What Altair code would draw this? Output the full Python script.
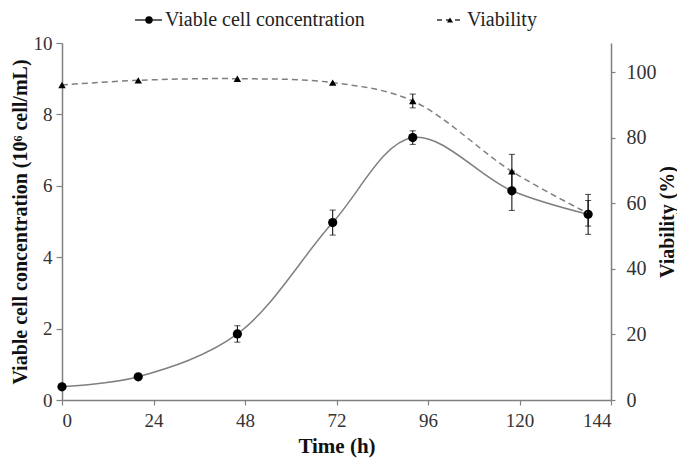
import altair as alt
import pandas as pd

time_h = [0, 20, 46, 71, 92, 118, 138]
vcc = [0.37, 0.65, 1.85, 4.97, 7.35, 5.86, 5.20]
vcc_err = [0.0, 0.0, 0.23, 0.35, 0.19, 0.55, 0.56]
viability = [96.2, 97.6, 98.1, 96.9, 91.3, 69.8, 57.0]
via_err = [0.0, 0.0, 0.0, 0.0, 2.1, 5.2, 3.9]

x_ticks = [0, 24, 48, 72, 96, 120, 144]
left_ticks = [0, 2, 4, 6, 8, 10]
right_ticks = [0, 20, 40, 60, 80, 100]

FONT = "Liberation Serif"
GRAY = "#7f7f7f"
AXC = "#808080"

df = pd.DataFrame({
    "t": time_h, "vcc": vcc, "vcc_lo": [v - e for v, e in zip(vcc, vcc_err)],
    "vcc_hi": [v + e for v, e in zip(vcc, vcc_err)],
    "via": viability, "via_lo": [v - e for v, e in zip(viability, via_err)],
    "via_hi": [v + e for v, e in zip(viability, via_err)],
    "vcc_has": [e > 0 for e in vcc_err], "via_has": [e > 0 for e in via_err],
})

x_axis = alt.Axis(values=x_ticks, title="Time (h)", grid=False, titleFontSize=21,
                  titlePadding=5, labelPadding=6, tickSize=5)
x_scale = alt.Scale(domain=[0, 144], nice=False)

def X(field="t"):
    return alt.X(f"{field}:Q", scale=x_scale, axis=x_axis)

yl_scale = alt.Scale(domain=[0, 10], nice=False)
yr_scale = alt.Scale(domain=[0, 109], nice=False)

left_axis = alt.Axis(values=left_ticks, title="Viable cell concentration  (10⁶ cell/mL)",
                     grid=False, orient="left", titlePadding=3, titleFontSize=20,
                     labelPadding=4, tickSize=6)
right_axis = alt.Axis(values=right_ticks, title="Viability (%)", grid=False, orient="right",
                      titleAngle=270, titlePadding=21, titleFontSize=20, labelFontSize=20,
                      labelPadding=11, tickSize=4)

def YL(field):
    return alt.Y(f"{field}:Q", scale=yl_scale, axis=left_axis)

def YR(field):
    return alt.Y(f"{field}:Q", scale=yr_scale, axis=right_axis)

base = alt.Chart(df)
tick_kw = dict(color="black", orient="horizontal", size=6, thickness=1)

vcc_line = base.mark_line(interpolate="catmull-rom", color=GRAY, strokeWidth=1.5).encode(
    x=X(), y=YL("vcc"))
vcc_err_rule = base.transform_filter("datum.vcc_has").mark_rule(color="black", strokeWidth=1).encode(
    x=X(), y=YL("vcc_lo"), y2="vcc_hi:Q")
vcc_cap_lo = base.transform_filter("datum.vcc_has").mark_tick(**tick_kw).encode(x=X(), y=YL("vcc_lo"))
vcc_cap_hi = base.transform_filter("datum.vcc_has").mark_tick(**tick_kw).encode(x=X(), y=YL("vcc_hi"))
vcc_pts = base.mark_point(shape="circle", filled=True, color="black", size=85, opacity=1).encode(
    x=X(), y=YL("vcc"))
left = alt.layer(vcc_line, vcc_err_rule, vcc_cap_lo, vcc_cap_hi, vcc_pts)

via_line = base.mark_line(interpolate="catmull-rom", color=GRAY, strokeWidth=1.5, strokeDash=[6, 4]).encode(
    x=X(), y=YR("via"))
via_err_rule = base.transform_filter("datum.via_has").mark_rule(color="black", strokeWidth=1).encode(
    x=X(), y=YR("via_lo"), y2="via_hi:Q")
via_cap_lo = base.transform_filter("datum.via_has").mark_tick(**tick_kw).encode(x=X(), y=YR("via_lo"))
via_cap_hi = base.transform_filter("datum.via_has").mark_tick(**tick_kw).encode(x=X(), y=YR("via_hi"))
via_pts = base.mark_point(shape="triangle-up", filled=True, color="black", size=55, opacity=1).encode(
    x=X(), y=YR("via"))
right = alt.layer(via_line, via_err_rule, via_cap_lo, via_cap_hi, via_pts)

# manual legend above the plot
one = pd.DataFrame({"a": [0]})
lg = alt.Chart(one)
LY = -23      # symbol centre line
TY = -17      # text baseline
leg1_line = lg.mark_rule(color="#333", strokeWidth=1.5).encode(
    x=alt.value(73), x2=alt.value(100), y=alt.value(LY))
leg1_pt = lg.mark_point(shape="circle", filled=True, color="black", size=55, opacity=1).encode(
    x=alt.value(87), y=alt.value(LY))
leg1_txt = lg.mark_text(text="Viable cell concentration", align="left", baseline="alphabetic",
                        font=FONT, fontSize=20, color="#222").encode(x=alt.value(103), y=alt.value(TY))
leg2_line = lg.mark_rule(color="#333", strokeWidth=1.5, strokeDash=[5, 4]).encode(
    x=alt.value(375), x2=alt.value(401), y=alt.value(LY))
leg2_pt = lg.mark_point(shape="triangle-up", filled=True, color="black", size=35, opacity=1).encode(
    x=alt.value(388), y=alt.value(LY))
leg2_txt = lg.mark_text(text="Viability", align="left", baseline="alphabetic",
                        font=FONT, fontSize=20, color="#222").encode(x=alt.value(405), y=alt.value(TY))
legend = alt.layer(leg1_line, leg1_pt, leg1_txt, leg2_line, leg2_pt, leg2_txt)

chart = alt.layer(left, right, legend).resolve_scale(y="independent").properties(
    width=549, height=357,
    autosize=alt.AutoSizeParams(type="none"),
    padding={"left": 54, "top": 35, "right": 66, "bottom": 61},
).configure_view(stroke=None).configure_axis(
    domainColor=AXC, tickColor=AXC, domainWidth=1.5, tickWidth=1.2,
    labelFont=FONT, titleFont=FONT, labelFontSize=19, titleFontSize=19,
    labelColor="#333", titleColor="#111", titleFontWeight="bold",
)

chart.save("out.html", embed_options={"renderer": "svg", "actions": False})
